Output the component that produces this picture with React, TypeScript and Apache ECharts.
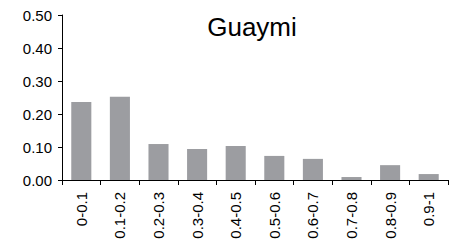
import React, { useEffect, useRef } from "react";
import * as echarts from "echarts";

const categories = ["0-0.1", "0.1-0.2", "0.2-0.3", "0.3-0.4", "0.4-0.5", "0.5-0.6", "0.6-0.7", "0.7-0.8", "0.8-0.9", "0.9-1"];
const values = [0.236, 0.252, 0.109, 0.094, 0.103, 0.073, 0.064, 0.009, 0.045, 0.018];
const yTicks = [0, 0.1, 0.2, 0.3, 0.4, 0.5];
const title = "Guaymi";

export default function App() {
  const ref = useRef<HTMLDivElement>(null);
  useEffect(() => {
    if (!ref.current) return;
    const chart = echarts.init(ref.current, undefined, { renderer: "svg" });
    const font = "Liberation Sans, Arial, sans-serif";
    chart.setOption({
      animation: false,
      backgroundColor: "#ffffff",
      title: {
        text: title,
        left: 247,
        top: 9,
        textAlign: "center",
        textStyle: { fontFamily: font, fontSize: 26, fontWeight: "normal", color: "#000" },
      },
      grid: { left: 62, right: 11, top: 15, bottom: 63 },
      xAxis: {
        type: "category",
        data: categories,
        boundaryGap: true,
        axisLine: { lineStyle: { color: "#000", width: 1 } },
        axisTick: { show: true, length: 5, inside: false, lineStyle: { color: "#000" } },
        axisLabel: { rotate: 90, fontFamily: font, fontSize: 15, color: "#000", margin: 12, interval: 0 },
      },
      yAxis: {
        type: "value",
        min: yTicks[0],
        max: yTicks[yTicks.length - 1],
        interval: 0.1,
        splitLine: { show: false },
        axisLine: { show: true, lineStyle: { color: "#000", width: 1 } },
        axisTick: { show: true, length: 4, lineStyle: { color: "#000" } },
        axisLabel: {
          fontFamily: font,
          fontSize: 15,
          color: "#000",
          margin: 10,
          formatter: (v: number) => v.toFixed(2),
        },
      },
      series: [
        {
          type: "bar",
          data: values,
          barWidth: "52%",
          itemStyle: { color: "#9c9da1" },
        },
      ],
    });
    return () => chart.dispose();
  }, []);
  return <div ref={ref} style={{ position: "fixed", left: 0, top: 0, width: 459, height: 243 }} />;
}
